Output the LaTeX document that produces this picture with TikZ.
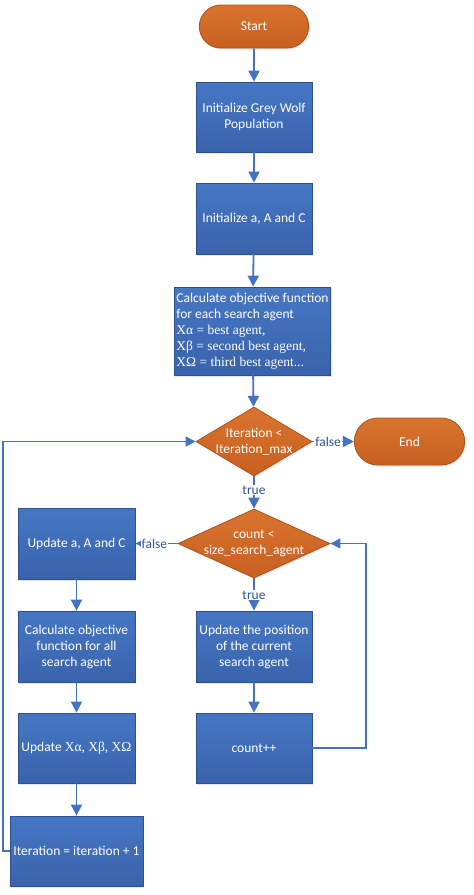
\documentclass[tikz,border=0pt]{standalone}
\usepackage{fontspec}
\setmainfont{Carlito}
\newfontfamily\serifgr{Liberation Serif}
\usetikzlibrary{shapes.geometric,shapes.misc,arrows.meta,shadows}
\definecolor{bluetop}{HTML}{4677C4}
\definecolor{bluebot}{HTML}{3963AC}
\definecolor{blueedge}{HTML}{2F528F}
\definecolor{orangetop}{HTML}{D9742F}
\definecolor{orangebot}{HTML}{C85F1F}
\definecolor{orangeedge}{HTML}{AE5219}
\definecolor{lineblue}{HTML}{4472C4}
\definecolor{labelblue}{HTML}{2F5597}
\tikzset{
  procbox/.style={rectangle, draw=blueedge, line width=0.8pt, top color=bluetop, bottom color=bluebot,
    text=white, font=\fontsize{13.5}{16}\selectfont, align=center, inner sep=2pt,
    drop shadow={opacity=0.2, shadow xshift=1pt, shadow yshift=-1.5pt}},
  termbox/.style={rounded rectangle, draw=orangeedge, line width=0.8pt, top color=orangetop, bottom color=orangebot,
    text=white, font=\fontsize{13.5}{16}\selectfont, align=center,
    drop shadow={opacity=0.2, shadow xshift=1pt, shadow yshift=-1.5pt}},
  decbox/.style={diamond, draw=orangeedge, line width=0.8pt, top color=orangetop, bottom color=orangebot,
    inner sep=0pt, drop shadow={opacity=0.2, shadow xshift=1pt, shadow yshift=-1.5pt}},
  dectext/.style={text=white, font=\fontsize{13.5}{16}\selectfont, align=center},
  flow/.style={draw=lineblue, line width=1.8pt, -{Triangle[width=11pt,length=11pt]}},
  loopflow/.style={draw=lineblue, line width=1.1pt, -{Triangle[width=10pt,length=10pt]}},
  lbl/.style={text=labelblue, font=\fontsize{13.5}{16}\selectfont, fill=white, inner sep=1pt}
}
\begin{document}
\begin{tikzpicture}[x=1pt,y=-1pt]
\useasboundingbox (0,0) rectangle (474,895);
\fill[white] (0,0) rectangle (474,895);

\node[termbox, minimum width=116pt, minimum height=43pt] (start) at (254,26.5) {Start};
\node[procbox, minimum width=116pt, minimum height=70pt] (b1) at (254,117) {Initialize Grey Wolf\\Population};
\node[procbox, minimum width=116pt, minimum height=71pt] (b2) at (254,218.5) {Initialize a, A and C};
\node[procbox, minimum width=155pt, minimum height=88pt, align=left] (b3) at (252.5,331)
  {Calculate objective function\\for each search agent\\{\serifgr Xα = best agent,}\\{\serifgr Xβ = second best agent,}\\{\serifgr XΩ = third best agent...}};
\node[decbox, minimum width=116pt, minimum height=69pt,
  label={[dectext]center:Iteration <\\Iteration\_max}] (d1) at (254,441.5) {};
\node[termbox, minimum width=117pt, minimum height=47pt] (end) at (409.5,441.5) {End};
\node[decbox, minimum width=152pt, minimum height=69pt,
  label={[dectext]center:count <\\size\_search\_agent}] (d2) at (254,543.5) {};
\node[procbox, minimum width=117pt, minimum height=71pt] (u1) at (76.5,543.5) {Update a, A and C};
\node[procbox, minimum width=117pt, minimum height=71pt] (c1) at (76.5,646.5) {Calculate objective\\function for all\\search agent};
\node[procbox, minimum width=116pt, minimum height=71pt] (p1) at (254,646.5) {Update the position\\of the current\\search agent};
\node[procbox, minimum width=117pt, minimum height=70pt] (u2) at (76.5,748) {Update {\serifgr Xα, Xβ, XΩ}};
\node[procbox, minimum width=116pt, minimum height=70pt] (cnt) at (254,748) {count++};
\node[procbox, minimum width=133pt, minimum height=70pt] (it) at (76.5,851) {Iteration = iteration + 1};

\coordinate (r1) at (366,748);
\coordinate (r2) at (366,543.5);
\coordinate (l1) at (3,851);
\coordinate (l2) at (3,441.5);

\draw[flow] (start) -- (b1);
\draw[flow] (b1) -- (b2);
\draw[flow] (b2) -- (b3);
\draw[flow] (b3) -- (d1);
\draw[flow] (d1.east) -- node[lbl, pos=0.38] {false} (end.west);
\draw[flow] (d1.south) -- node[lbl, pos=0.42] {true} (d2.north);
\draw[flow] (d2.west) -- node[lbl, pos=0.55] {false} (u1.east);
\draw[flow] (d2.south) -- node[lbl, pos=0.52] {true} (p1.north);
\draw[flow] (u1) -- (c1);
\draw[flow] (c1) -- (u2);
\draw[flow] (u2) -- (it);
\draw[flow] (p1) -- (cnt);
\draw[loopflow] (cnt.east) -- (r1) -- (r2) -- (d2.east);
\draw[loopflow] (it.west) -- (l1) -- (l2) -- (d1.west);
\end{tikzpicture}
\end{document}
